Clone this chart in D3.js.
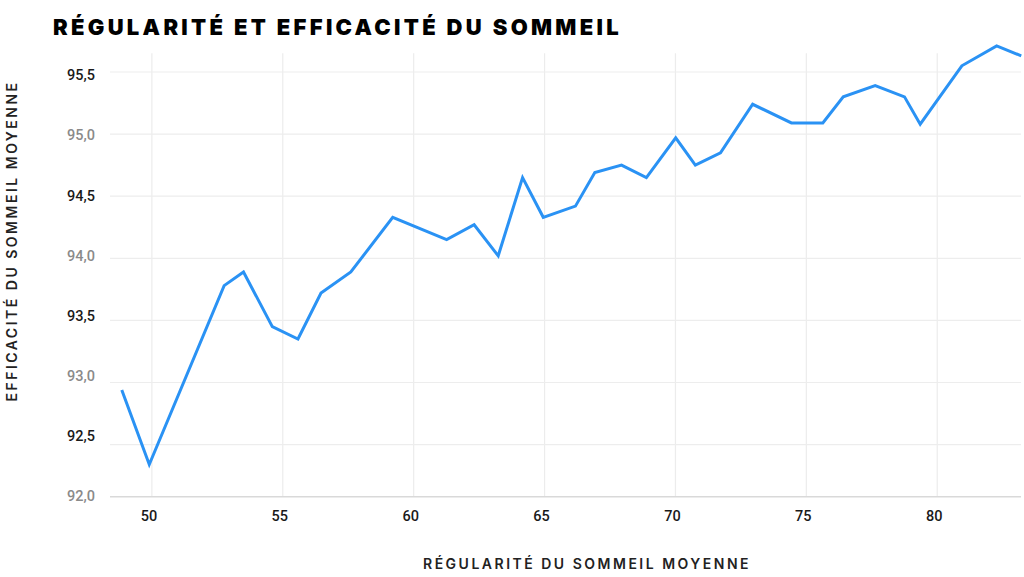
<!DOCTYPE html>
<html>
<head>
<meta charset="utf-8">
<script src="https://cdnjs.cloudflare.com/ajax/libs/d3/7.8.5/d3.min.js"></script>
<style>
  body { margin: 0; background: #fff; }
  svg { display: block; }
</style>
</head>
<body>
<div id="my_dataviz"></div>
<script>
    // régularité moyenne (x) et efficacité moyenne (y)
    var regularite = [48.85, 49.90, 52.76, 53.50, 54.60, 55.58, 56.46, 57.60, 59.20, 61.26,
                      62.31, 63.23, 64.16, 64.95, 66.18, 66.92, 67.94, 68.89, 70.01, 70.76,
                      71.72, 72.95, 74.43, 75.63, 76.41, 77.63, 78.75, 79.35, 80.94, 82.27, 83.21];
    var efficacite = [92.94, 92.34, 93.78, 93.89, 93.45, 93.35, 93.72, 93.89, 94.33, 94.15,
                      94.27, 94.02, 94.65, 94.33, 94.42, 94.69, 94.75, 94.65, 94.97, 94.75,
                      94.85, 95.24, 95.09, 95.09, 95.30, 95.39, 95.30, 95.08, 95.55, 95.71, 95.63];

    var xTicks = [50, 55, 60, 65, 70, 75, 80];
    var yTicks = [92.0, 92.5, 93.0, 93.5, 94.0, 94.5, 95.0, 95.5];

    var data = regularite.map(function(d, i) { return {x: d, y: efficacite[i]}; });

    var W = 1024, H = 577;

    var svg = d3.select("#my_dataviz")
      .append("svg")
        .attr("width", W)
        .attr("height", H);

    // scales
    var x = d3.scaleLinear()
              .domain([48.4, 83.2])
              .range([110, 1021]);

    var y = d3.scaleLinear()
              .domain([92.0, 95.5])
              .range([506.7, 72]);

    // tick labels sit on a slightly tighter grid than the lines
    var yLab = d3.scaleLinear()
              .domain([92.0, 95.5])
              .range([496, 75]);

    var plotTop = y(95.65), plotBottom = y(92.08);

    var fmt = function(v) { return d3.format(".1f")(v).replace(".", ","); };

    // vertical grid
    svg.append("g")
      .selectAll("line")
      .data(xTicks)
      .enter()
      .append("line")
        .attr("x1", function(d) { return x(d); })
        .attr("x2", function(d) { return x(d); })
        .attr("y1", plotTop)
        .attr("y2", plotBottom)
        .style("stroke", "#ececec")
        .style("stroke-width", 1.2);

    // horizontal grid (92,0 falls under the axis line)
    svg.append("g")
      .selectAll("line")
      .data(yTicks.filter(function(d) { return d > 92.0; }))
      .enter()
      .append("line")
        .attr("x1", x.range()[0])
        .attr("x2", x.range()[1])
        .attr("y1", function(d) { return y(d); })
        .attr("y2", function(d) { return y(d); })
        .style("stroke", "#ededed")
        .style("stroke-width", 1.2);

    // x axis line
    svg.append("line")
        .attr("x1", x.range()[0])
        .attr("x2", x.range()[1])
        .attr("y1", plotBottom)
        .attr("y2", plotBottom)
        .style("stroke", "#d9d9d9")
        .style("stroke-width", 1.5);

    // y tick labels, alternating dark / grey
    svg.append("g")
      .selectAll("text")
      .data(yTicks)
      .enter()
      .append("text")
        .attr("x", 95)
        .attr("y", function(d) { return yLab(d); })
        .attr("dy", "0.36em")
        .style("text-anchor", "end")
        .style("font-family", "Roboto, sans-serif")
        .style("font-size", "14.5px")
        .style("font-weight", 500)
        .style("fill", function(d, i) { return i % 2 === 0 ? "#8a8a8a" : "#1a1a1a"; })
        .text(fmt);

    // x tick labels
    svg.append("g")
      .selectAll("text")
      .data(xTicks)
      .enter()
      .append("text")
        .attr("x", function(d) { return x(d) - 3; })
        .attr("y", 521)
        .style("text-anchor", "middle")
        .style("font-family", "Roboto, sans-serif")
        .style("font-size", "14.5px")
        .style("font-weight", 500)
        .style("fill", "#1a1a1a")
        .text(function(d) { return d; });

    // the line
    var line = d3.line()
      .x(function(d) { return x(d.x); })
      .y(function(d) { return y(d.y); });

    svg.append("path")
      .datum(data)
        .attr("d", line)
        .style("fill", "none")
        .style("stroke", "#2a92f4")
        .style("stroke-width", 3)
        .style("stroke-linejoin", "miter");

    // titles
    svg.append("text")
        .attr("x", 53)
        .attr("y", 35)
        .style("font-family", "Inter, sans-serif")
        .style("font-size", "22px")
        .style("font-weight", 900)
        .style("letter-spacing", "3.3px")
        .style("fill", "#000")
        .text("RÉGULARITÉ ET EFFICACITÉ DU SOMMEIL");

    svg.append("text")
        .attr("x", 587)
        .attr("y", 569)
        .style("text-anchor", "middle")
        .style("font-family", "Inter, sans-serif")
        .style("font-size", "14px")
        .style("font-weight", 600)
        .style("letter-spacing", "2.5px")
        .style("fill", "#222")
        .text("RÉGULARITÉ DU SOMMEIL MOYENNE");

    svg.append("text")
        .attr("transform", "translate(17,241) rotate(-90)")
        .style("text-anchor", "middle")
        .style("font-family", "Inter, sans-serif")
        .style("font-size", "14px")
        .style("font-weight", 600)
        .style("letter-spacing", "2.5px")
        .style("fill", "#222")
        .text("EFFICACITÉ DU SOMMEIL MOYENNE");
</script>
</body>
</html>
